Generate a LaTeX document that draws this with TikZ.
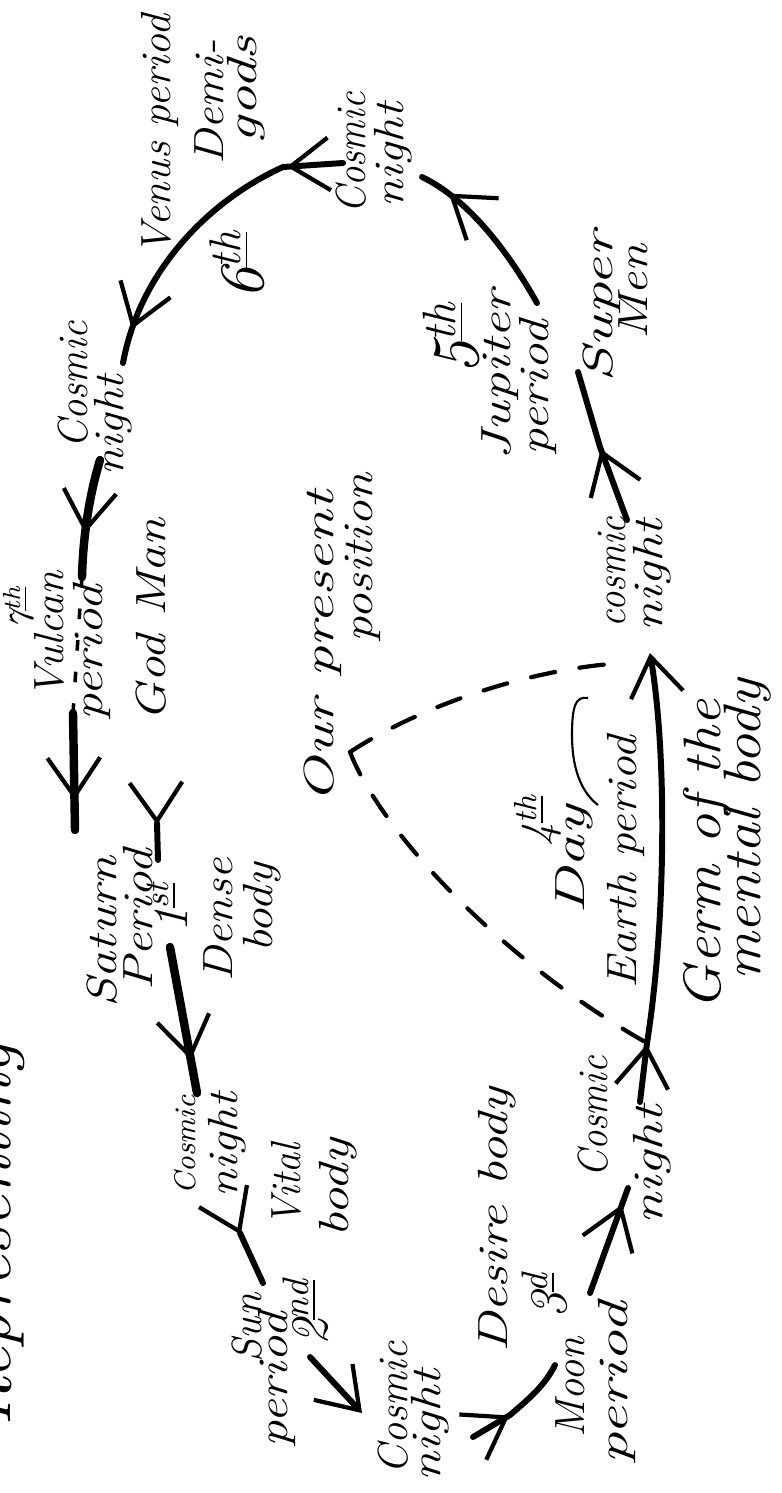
\documentclass[tikz,border=0pt]{standalone}
\usetikzlibrary{arrows.meta,decorations.markings}

\newcommand\ordn[2]{#1\textsuperscript{\underline{#2}}}

\tikzset{
  hand/.style={rotate=90, anchor=base, inner sep=0pt, xscale=#1/12,
    font=\fontsize{12}{12}\selectfont\itshape},
  handL/.style={rotate=90, anchor=base, inner sep=0pt, xscale=#1/15,
    font=\fontsize{15}{15}\selectfont\itshape},
  numl/.style={rotate=90, anchor=base, inner sep=0pt,
    font=\fontsize{#1}{#1}\selectfont\itshape},
  hb/.tip={Straight Barb[length=11pt,width=15pt,line width=1.2pt]},
  shaft/.style={line width=1.7pt, line cap=round},
  thick shaft/.style={line width=2.4pt, line cap=round},
  headat/.style={postaction={decorate,
      decoration={markings, mark=at position #1 with {\arrow{hb}}}}},
  dashln/.style={line width=1.2pt, line cap=round, dash pattern=on 7pt off 7pt},
  dotln/.style={line width=1pt, dash pattern=on 3pt off 6pt},
  tail/.style={line width=0.6pt}
}

\begin{document}
\begin{tikzpicture}[x=0.1mm, y=-0.1mm]

        \useasboundingbox (0,0) rectangle (781,1493);

        % title, cut by the page edge
        \node[numl=20, anchor=base west] (title) at (10,1427) {Representing};

        % 6th and 5th
        \node[hand=12.5] (venus)  at (170,135) {Venus period};
        \node[hand=13.5] (demi)   at (223,102) {Demi-};
        \node[hand=17]   (gods)   at (256,90)  {gods};
        \node[numl=18]   (sixth)  at (263,265) {\ordn{6}{th}};
        \node[hand=11]   (cn6a)   at (365,153) {Cosmic};
        \node[hand=14]   (cn6b)   at (403,155) {night};
        \node[numl=19]   (fifth)  at (478,338) {\ordn{5}{th}};
        \node[hand=16]   (jup)    at (510,375) {Jupiter};
        \node[hand=15]   (jupper) at (548,388) {period};
        \node[hand=18]   (super)  at (612,307) {Super};
        \node[hand=14.5] (men)    at (647,292) {Men};
        \node[hand=11]   (cn5a)   at (625,572) {cosmic};
        \node[hand=15]   (cn5b)   at (662,575) {night};

        % 7th and our position
        \node[numl=10]   (seventh) at (33,607)  {\ordn{7}{th}};
        \node[hand=12.5] (vulcan)  at (63,635)  {Vulcan};
        \node[hand=15]   (vulper)  at (102,653) {period};
        \node[hand=14.5] (godman)  at (165,620) {God Man};
        \node[hand=11.5] (cn7a)    at (88,385)  {Cosmic};
        \node[hand=13.5] (cn7b)    at (124,425) {night};
        \node[hand=17.5] (ourpos)  at (333,647) {Our present};
        \node[hand=14.5] (posit)   at (372,558) {position};

        % 1st and 2nd
        \node[hand=15]   (saturn)    at (116,932)  {Saturn};
        \node[hand=14.5] (satper)    at (152,920)  {Period};
        \node[numl=14]   (first)     at (187,907)  {\ordn{1}{st}};
        \node[hand=13.5] (dense)     at (232,920)  {Dense};
        \node[hand=14]   (densebody) at (272,908)  {body};
        \node[numl=8.5]  (cn1a)      at (196,1145) {Cosmic};
        \node[hand=14]   (cn1b)      at (237,1145) {night};
        \node[hand=11.5] (vital)     at (300,1185) {Vital};
        \node[hand=15.5] (vitalbody) at (348,1188) {body};
        \node[hand=12]   (sun)       at (262,1328) {Sun};
        \node[hand=15]   (sunper)    at (287,1380) {period};
        \node[numl=15]   (second)    at (327,1312) {\ordn{2}{nd}};
        \node[hand=12]   (cn2a)      at (407,1408) {Cosmic};
        \node[hand=15]   (cn2b)      at (440,1425) {night};

        % 3d and 4th
        \node[hand=15.5] (desire)  at (507,1220) {Desire body};
        \node[numl=15]   (third)   at (566,1295) {\ordn{3}{d}};
        \node[hand=12]   (moon)    at (584,1387) {Moon};
        \node[hand=18]   (moonper) at (627,1383) {period};
        \node[hand=11]   (cn3a)    at (607,1117) {Cosmic};
        \node[hand=16]   (cn3b)    at (662,1165) {night};
        \node[numl=13]   (fourth)  at (552,820)  {\ordn{4}{th}};
        \node[hand=18]   (day)     at (584,860)  {Day};
        \node[hand=13.5] (earth)   at (636,862)  {Earth period};
        \node[handL=17]  (germ)    at (720,855)  {Germ of the};
        \node[handL=17]  (mental)  at (760,830)  {mental body};

        % arrow ends
        \coordinate (venA)  at (343,163);
        \coordinate (venJ)  at (283,167);
        \coordinate (venE)  at (123,363);
        \coordinate (jupA)  at (537,303);
        \coordinate (jupE)  at (422,177);
        \coordinate (supA)  at (627,520);
        \coordinate (supJ)  at (600,447);
        \coordinate (supE)  at (578,372);
        \coordinate (earA)  at (640,1102);
        \coordinate (earJ)  at (647,1043);
        \coordinate (earE)  at (650,653);
        \coordinate (vulA)  at (100,460);
        \coordinate (vulE)  at (82,577);
        \coordinate (vulB)  at (73,713);
        \coordinate (satA)  at (75,830);
        \coordinate (satJ)  at (157,823);
        \coordinate (satB)  at (158,860);
        \coordinate (satC)  at (170,947);
        \coordinate (satD)  at (197,1093);
        \coordinate (sunJ)  at (240,1233);
        \coordinate (sunB)  at (263,1283);
        \coordinate (sunC)  at (310,1357);
        \coordinate (sunD)  at (362,1413);
        \coordinate (moonA) at (473,1437);
        \coordinate (moonJ) at (510,1415);
        \coordinate (moonE) at (555,1365);
        \coordinate (moonC) at (590,1293);
        \coordinate (moonD) at (628,1188);
        \coordinate (ourV)  at (350,752);
        \coordinate (dashE) at (623,663);
        \coordinate (dayA)  at (598,805);
        \coordinate (dayB)  at (588,698);

        % the round of periods
        \draw[shaft, headat=16pt, headat=-10pt] (venA) -- (venJ)
          .. controls (210,200) and (140,270) .. (venE);
        \draw[shaft, headat=-9pt] (jupA) .. controls (510,255) and (470,200) .. (jupE);
        \draw[shaft, headat=21.5pt] (supA) -- (supJ) -- (supE);
        \draw[shaft, headat=16.5pt, -{hb}] (earA) -- (earJ)
          .. controls (665,930) and (668,760) .. (earE);
        \draw[thick shaft, headat=-12.5pt] (vulA) .. controls (88,500) and (83,540) .. (vulE);
        \draw[dotln] (vulE) -- (vulB);
        \draw[thick shaft, headat=-8.5pt] (vulB) -- (satA);
        \draw[shaft, headat=0.5pt] (satJ) -- (satB);
        \draw[thick shaft, headat=-9.6pt] (satC) -- (satD);
        \draw[shaft, headat=0.5pt] (sunJ) -- (sunB);
        \draw[shaft, -{hb}] (sunC) -- (sunD);
        \draw[shaft, headat=12pt] (moonA) -- (moonJ)
          .. controls (530,1398) and (545,1385) .. (moonE);
        \draw[shaft, headat=-5pt] (moonC) -- (moonD);

        % our present position
        \draw[dashln] (ourV) .. controls (430,700) and (540,668) .. (dashE);
        \draw[dashln] (ourV) .. controls (380,830) and (500,960) .. (earJ);
        \draw[tail] (dayA) .. controls (585,795) and (572,775) .. (572,735)
          .. controls (572,705) and (576,696) .. (dayB);

      \end{tikzpicture}
\end{document}
